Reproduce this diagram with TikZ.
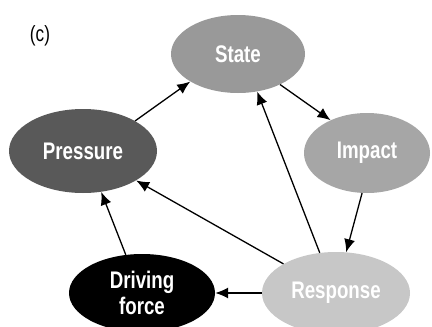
\documentclass[tikz,border=0pt]{standalone}
\usepackage{fontspec}
\newfontfamily\dpsirfont{Liberation Sans}[FakeStretch=0.78]
\usetikzlibrary{arrows.meta}
\usetikzlibrary{shapes.geometric}

\begin{document}
\begin{tikzpicture}[x=1pt,y=-1pt,
    box/.style={ellipse,inner sep=0pt,text=white,align=center,
        font=\dpsirfont\bfseries\fontsize{24}{26}\selectfont},
    link/.style={line width=1.3pt,-{Latex[length=13pt,width=11pt]}}]
    % white page, cut at the bottom like the original
    \clip (0,0) rectangle (432,327);
    \fill[white] (0,0) rectangle (432,327);

    \node at (40,36) {\dpsirfont\fontsize{22}{24}\selectfont (c)};

    \node[box,fill=black!40,minimum width=134pt,minimum height=78pt] (state) at (238,54) {State};
    \node[box,fill=black!65,minimum width=148pt,minimum height=84pt] (pressure) at (83,151) {Pressure};
    \node[box,fill=black!35,minimum width=126pt,minimum height=80pt] (impact) at (367,153) {Impact};
    \node[box,fill=black,minimum width=146pt,minimum height=78pt] (driving) at (142,293) {Driving\\force};
    \node[box,fill=black!22,minimum width=148pt,minimum height=82pt] (response) at (336,293) {Response};

    \draw[link] (pressure.30) -- (state.210);
    \draw[link] (state.324) -- (impact.138);
    \draw[link] (impact.263) -- (response.76);
    \draw[link] (response.112) -- (state.297);
    \draw[link] (response.151) -- (pressure.331);
    \draw[link] (driving.113) -- (pressure.294);
    \draw[link] (response.west) -- (driving.east);
\end{tikzpicture}
\end{document}
